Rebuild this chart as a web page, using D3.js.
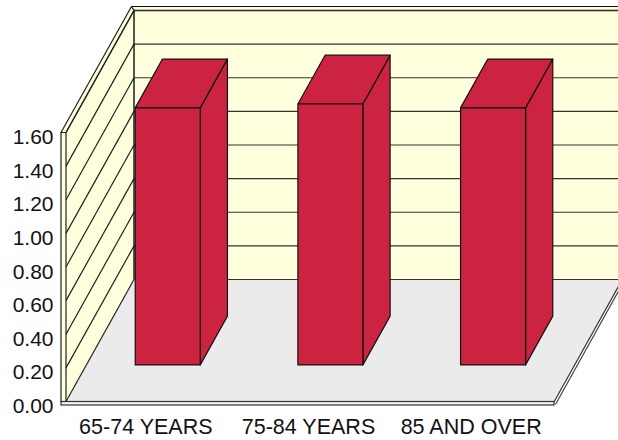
<!DOCTYPE html>
<html><head><meta charset="utf-8">
<script src="https://cdn.jsdelivr.net/npm/d3@7"></script>
<style>html,body{margin:0;background:#fff}svg{display:block}text{font-family:"Liberation Sans",Arial,sans-serif;fill:#111}</style>
</head><body><svg id="c" width="618" height="440"></svg>
<script>
const categories = ["65-74 YEARS","75-84 YEARS","85 AND OVER"];
const values = [1.53,1.553,1.53];
const yTicks = [0,0.2,0.4,0.6,0.8,1.0,1.2,1.4,1.6];

const svg = d3.select("#c");
const x = d3.scaleBand().domain(categories).range([66,554]);
const y = d3.scaleLinear().domain([0,1.6]).range([401.5,132.5]);
const barH = d3.scaleLinear().domain([0,1.6]).range([0,268.8]);
const DX = 68, DY = -122;
const P = (px,v,d)=>[px+d*DX, y(v)+d*DY];
const poly = (pts,fill,stroke="#111",sw=1.2)=>svg.append("path")
  .attr("d","M"+pts.map(p=>p.join(",")).join("L")+"Z")
  .attr("fill",fill).attr("stroke",stroke).attr("stroke-width",sw).attr("stroke-linejoin","round");
const line = (a,b,stroke="#222",sw=1.2)=>svg.append("line")
  .attr("x1",a[0]).attr("y1",a[1]).attr("x2",b[0]).attr("y2",b[1])
  .attr("stroke",stroke).attr("stroke-width",sw);

const wall="#FFFFDD", floor="#EBEBEB", red="#CC2440";
const L=x.range()[0], R=x.range()[1];

poly([P(L,0,1),P(L,1.6,1),P(R,1.6,1),P(R,0,1)],wall,"none",0);
poly([[131.5,6.5],[134,10.5],[622,10.5],[622,6.5]],wall,"none",0);
line([131.5,6.5],[622,6.5],"#111",1.2);
line([134,10.5],[622,10.5],"#111",1.6);
poly([P(L,0,0),P(R,0,0),P(R,0,1),P(L,0,1)],floor,"none",0);
yTicks.forEach(t=>line(P(L,t,1),P(R,t,1),"#333",1.2));
poly([P(L,0,0),P(L,1.6,0),P(L,1.6,1),P(L,0,1)],wall,"none",0);
poly([[61,132.5],[66,132.5],[134,10.5],[131.5,6.5]],wall,"#222",1.2);
poly([[61,132.5],[66,132.5],[66,401.5],[61,401.5]],wall,"#222",1.2);
yTicks.forEach(t=>line(P(L,t,0),P(L,t,1),"#222",1.2));
line(P(L,0,1),P(L,1.6,1),"#111",1.4);

const bf=0.3, bb=0.7, bw=65;
categories.forEach((c,i)=>{
  const v=values[i], fx=x(c)+x.bandwidth()/2-bw/2;
  const f=(px,val,d)=>[px+d*DX, y(0)-barH(val)+d*DY];
  const x0=fx, x1=fx+bw;
  poly([f(x1,0,bf),f(x1,v,bf),f(x1,v,bb),f(x1,0,bb)],red);
  poly([f(x0,v,bf),f(x1,v,bf),f(x1,v,bb),f(x0,v,bb)],red);
  poly([f(x0,0,bf),f(x1,0,bf),f(x1,v,bf),f(x0,v,bf)],red);
});

svg.append("rect").attr("x",61).attr("y",401.5).attr("width",493).attr("height",3.5)
  .attr("fill","#f2f2f2").attr("stroke","#333").attr("stroke-width",1.2);
line([R,402],[622,280],"#333",1.2);
line([R+1.5,404.5],[623.5,282],"#444",1.2);

svg.selectAll(".yl").data(yTicks).join("text").attr("class","yl")
  .attr("x",53.5).attr("y",d=>y(d)+11.5).attr("text-anchor","end")
  .attr("font-size",21).text(d=>d.toFixed(2));
svg.selectAll(".xl").data(categories).join("text").attr("class","xl")
  .attr("x",d=>x(d)+x.bandwidth()/2-1.5).attr("y",433.5).attr("text-anchor","middle")
  .attr("font-size",21.5).text(d=>d);
</script></body></html>
